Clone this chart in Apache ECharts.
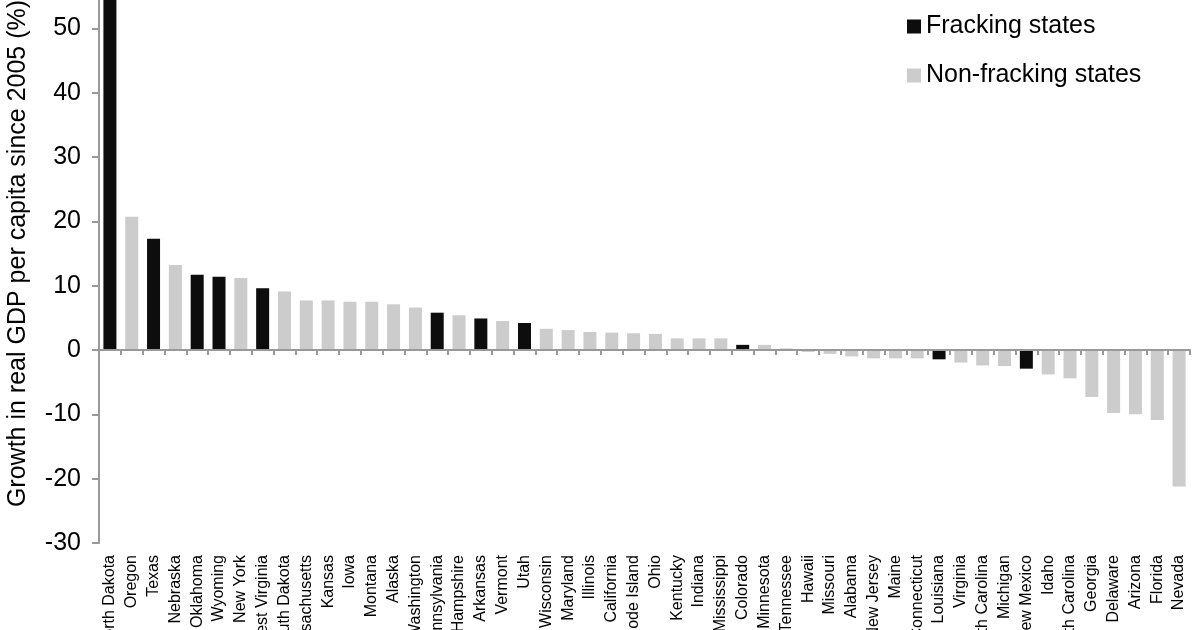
<!DOCTYPE html>
<html>
<head>
<meta charset="utf-8">
<script src="https://cdn.jsdelivr.net/npm/echarts@6/dist/echarts.min.js"></script>
<style>
html,body{margin:0;padding:0;background:#fff;}
#chart{width:1200px;height:630px;}
</style>
</head>
<body>
<div id="chart"></div>
<script>
const states = ["North Dakota","Oregon","Texas","Nebraska","Oklahoma","Wyoming","New York","West Virginia","South Dakota","Massachusetts","Kansas","Iowa","Montana","Alaska","Washington","Pennsylvania","New Hampshire","Arkansas","Vermont","Utah","Wisconsin","Maryland","Illinois","California","Rhode Island","Ohio","Kentucky","Indiana","Mississippi","Colorado","Minnesota","Tennessee","Hawaii","Missouri","Alabama","New Jersey","Maine","Connecticut","Louisiana","Virginia","North Carolina","Michigan","New Mexico","Idaho","South Carolina","Georgia","Delaware","Arizona","Florida","Nevada"];
const growth = [58,20.7,17.3,13.2,11.7,11.4,11.2,9.6,9.1,7.7,7.7,7.5,7.5,7.1,6.6,5.8,5.4,4.9,4.5,4.2,3.3,3.1,2.8,2.7,2.6,2.5,1.8,1.8,1.8,0.8,0.8,0.25,-0.3,-0.6,-1.0,-1.3,-1.3,-1.3,-1.45,-1.95,-2.4,-2.5,-2.9,-3.8,-4.4,-7.3,-9.8,-10.0,-10.9,-21.2];
const frackingStates = ["North Dakota","Texas","Oklahoma","Wyoming","West Virginia","Pennsylvania","Arkansas","Utah","Colorado","Louisiana","New Mexico"];
const seriesNames = ["Fracking states","Non-fracking states"];
const yTicks = {min:-30, max:60, interval:10};

const fracData = states.map((s,i)=> frackingStates.includes(s) ? growth[i] : null);
const nonData = states.map((s,i)=> frackingStates.includes(s) ? null : growth[i]);

const FONT = '"Liberation Sans", Arial, sans-serif';
const axisGrey = '#999999';
const G = {left:99, right:10, top:-36, bottom:87, height:630};
const plotH = G.height - G.top - G.bottom;
const zeroY = G.top + plotH * yTicks.max / (yTicks.max - yTicks.min);

const chart = echarts.init(document.getElementById('chart'), null, {renderer:'canvas'});
chart.setOption({
  animation:false,
  backgroundColor:'#fff',
  textStyle:{fontFamily:FONT},
  grid:[
    {left:G.left, right:G.right, top:G.top, bottom:G.bottom, containLabel:false, outerBoundsMode:'none'},
    {left:G.left, right:G.right, bottom:G.height - zeroY, height:10, containLabel:false, outerBoundsMode:'none'}
  ],
  legend:{
    orient:'vertical', left:907, top:14, itemGap:24, padding:0,
    itemWidth:14, itemHeight:14, icon:'rect',
    textStyle:{fontSize:25, color:'#000', fontFamily:FONT},
    data:seriesNames
  },
  xAxis:[{
    gridIndex:0, type:'category', data:states, position:'bottom',
    axisLine:{show:false, onZero:false},
    axisTick:{show:false},
    axisLabel:{show:true, rotate:90, interval:0, fontSize:16, margin:12, color:'#000', fontFamily:FONT},
    splitLine:{show:false}
  },{
    gridIndex:1, type:'value', min:0, max:states.length, interval:1, position:'bottom', z:10,
    axisLine:{show:true, onZero:false, lineStyle:{color:axisGrey, width:2}},
    axisTick:{show:true, length:5, lineStyle:{color:axisGrey, width:2}},
    axisLabel:{show:false},
    splitLine:{show:false}
  }],
  yAxis:[{
    gridIndex:0, type:'value', min:yTicks.min, max:yTicks.max, interval:yTicks.interval,
    name:'Growth in real GDP per capita since 2005 (%)',
    nameLocation:'middle', nameGap:68,
    nameTextStyle:{fontSize:25, color:'#000', fontFamily:FONT},
    axisLine:{show:true, onZero:false, lineStyle:{color:axisGrey, width:2}},
    axisTick:{show:true, length:7, lineStyle:{color:axisGrey, width:2}},
    axisLabel:{fontSize:25, color:'#000', margin:18, fontFamily:FONT},
    splitLine:{show:false}
  },{
    gridIndex:1, type:'value', show:false, min:0, max:1
  }],
  series:[{
    name:seriesNames[0], type:'bar', xAxisIndex:0, yAxisIndex:0, data:fracData,
    barWidth:13, barGap:'-100%', itemStyle:{color:'#0d0d0d'}
  },{
    name:seriesNames[1], type:'bar', xAxisIndex:0, yAxisIndex:0, data:nonData,
    barWidth:13, barGap:'-100%', itemStyle:{color:'#cccccc'}
  }]
});
</script>
</body>
</html>
